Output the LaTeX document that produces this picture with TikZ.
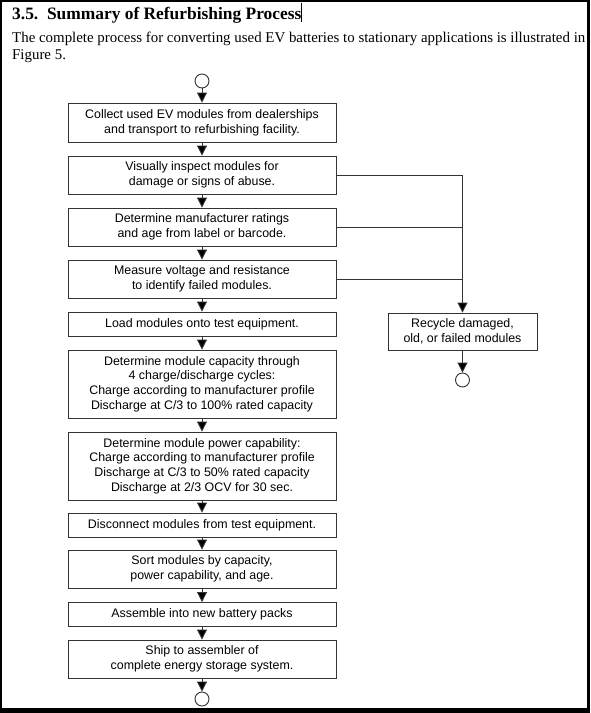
\documentclass[tikz,border=0pt]{standalone}
\usepackage{fontspec}
\setmainfont{Liberation Serif}
\newfontfamily\chartfont{Liberation Sans}
\usetikzlibrary{arrows.meta}
\definecolor{ln}{HTML}{333333}
\tikzset{
  box/.style={draw=ln, line width=0.9pt, rectangle, inner sep=0pt, align=center,
    font=\chartfont\fontsize{12.4}{14.8}\selectfont, minimum width=268pt},
  recbox/.style={box, minimum width=149pt},
  term/.style={draw=ln, line width=0.9pt, circle, minimum size=14pt, inner sep=0pt},
  arr/.style={draw=ln, line width=0.9pt, -{Triangle[width=10pt,length=10pt,fill=black]}},
  con/.style={draw=ln, line width=0.9pt},
}
\begin{document}
\begin{tikzpicture}[x=1pt,y=-1pt]
\useasboundingbox (0,0) rectangle (590,713);
\fill[white] (0,0) rectangle (590,713);
% frame
\draw[line width=2pt] (1,1) -- (1,712);
\draw[line width=2pt] (0,1) -- (590,1);
\draw[line width=3pt] (588.5,0) -- (588.5,713);
\fill[black] (0,708) rectangle (590,713);
% heading
\node[anchor=base west, inner sep=0pt, font=\fontsize{17.4}{20}\selectfont\bfseries] (title) at (12,19) {3.5.\ \ Summary of Refurbishing Process};
\draw[line width=0.6pt] (301,3) -- (301,22);
\node[anchor=base west, inner sep=0pt, font=\fontsize{14.9}{18}\selectfont] (p1) at (12,42) {The complete process for converting used EV batteries to stationary applications is illustrated in};
\node[anchor=base west, inner sep=0pt, font=\fontsize{14.9}{18}\selectfont] (p2) at (12,59) {Figure 5.};
% chart
\node[term] (start) at (202,81) {};
\node[box, minimum height=39pt] (b1) at (202,122.5) {Collect used EV modules from dealerships\\ and transport to refurbishing facility.};
\node[box, minimum height=38pt] (b2) at (202,175) {Visually inspect modules for\\ damage or signs of abuse.};
\node[box, minimum height=38pt] (b3) at (202,227) {Determine manufacturer ratings\\ and age from label or barcode.};
\node[box, minimum height=38pt] (b4) at (202,279) {Measure voltage and resistance\\ to identify failed modules.};
\node[box, minimum height=24pt] (b5) at (202,324) {Load modules onto test equipment.};
\node[box, minimum height=68pt] (b6) at (202,384) {Determine module capacity through\\ 4 charge/discharge cycles:\\ Charge according to manufacturer profile\\ Discharge at C/3 to 100\% rated capacity};
\node[box, minimum height=68pt] (b7) at (202,466) {Determine module power capability:\\ Charge according to manufacturer profile\\ Discharge at C/3 to 50\% rated capacity\\ Discharge at 2/3 OCV for 30 sec.};
\node[box, minimum height=24pt] (b8) at (202,525) {Disconnect modules from test equipment.};
\node[box, minimum height=38pt] (b9) at (202,569) {Sort modules by capacity,\\ power capability, and age.};
\node[box, minimum height=24pt] (b10) at (202,614.5) {Assemble into new battery packs};
\node[box, minimum height=38pt] (b11) at (202,659) {Ship to assembler of\\ complete energy storage system.};
\node[term] (stop) at (202,699) {};
\node[recbox, minimum height=37pt] (rec) at (462.5,331.5) {Recycle damaged,\\ old, or failed modules};
\node[term] (rstop) at (462.5,380) {};
% connectors
\draw[arr] (start) -- (b1);
\draw[arr] (b1) -- (b2);
\draw[arr] (b2) -- (b3);
\draw[arr] (b3) -- (b4);
\draw[arr] (b4) -- (b5);
\draw[arr] (b5) -- (b6);
\draw[arr] (b6) -- (b7);
\draw[arr] (b7) -- (b8);
\draw[arr] (b8) -- (b9);
\draw[arr] (b9) -- (b10);
\draw[arr] (b10) -- (b11);
\draw[arr] (b11) -- (stop);
\draw[arr] (b2.east) -| (rec.north);
\draw[con] (b3.east) -- (b3.east -| rec.north);
\draw[con] (b4.east) -- (b4.east -| rec.north);
\draw[arr] (rec) -- (rstop);
\end{tikzpicture}
\end{document}
